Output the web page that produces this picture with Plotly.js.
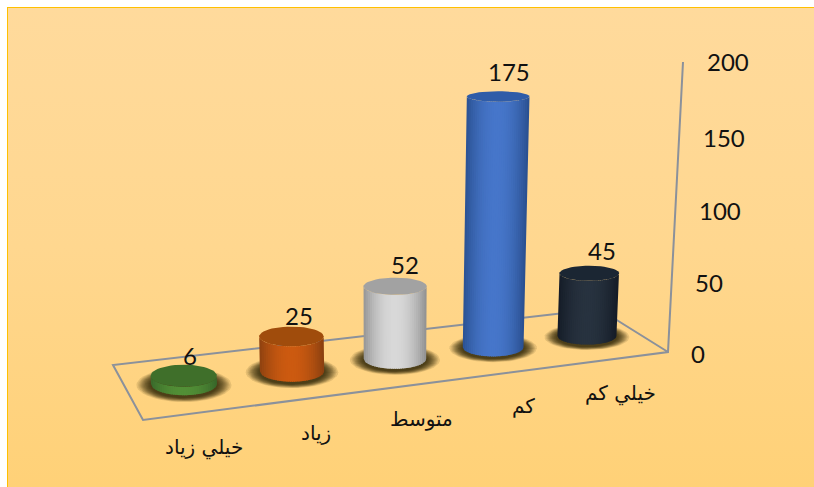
<!DOCTYPE html>
<html><head><meta charset="utf-8">
<script src="https://cdn.plot.ly/plotly-3.0.1.min.js"></script>
<style>
html,body{margin:0;padding:0;background:#fff;width:814px;height:487px;overflow:hidden}
#bg{position:absolute;left:7px;top:7px;width:807px;height:480px;box-sizing:border-box;
border-left:1px solid #FFC000;border-top:1px solid #FFC000;
background:linear-gradient(180deg,#FFDA9C 0%,#FFD78F 50%,#FFD177 100%)}
#chart{position:absolute;left:0;top:0;width:814px;height:487px}
</style></head><body><div id="bg"></div><div id="chart"></div>
<script>
// ---- chart data ----
const categories = ['خيلي زياد','زياد','متوسط','كم','خيلي كم'];
const values = [6,25,52,175,45];
const valueTicks = [0,50,100,150,200];

// ---- styles ----
const edgeColors = ['#38672A','#8A4010','#929292','#2A5090','#141B26'];
const midColors  = ['#528F36','#CC5A10','#D8D8D8','#4676CA','#27323F'];
const topColors  = ['#3F6F2A','#A04C0C','#A2A2A2','#2F5CA8','#1B2633'];
const lineColor = '#8B919B';
const numFont = {family:'Lato, "Open Sans", sans-serif',size:24,color:'#111'};
const catFont = {family:'"DejaVu Sans", sans-serif',size:20,color:'#111'};

// ---- oblique perspective projection of (category, value) to the plot's axes ----
function baseOf(i){
  const t = 110.7*i/(1+0.02474*i);
  return {x:184+t, y:384-0.1191*t, rx:33-0.875*i, ry:11.2-0.65*i};
}
function topOf(i,v){
  const b = baseOf(i), h = v*1.38+v*v*0.0003;
  return {x:b.x+0.000183*(b.x-384)*h, y:b.y-h, rx:b.rx*(1+v*0.00018), ry:b.ry*(1-v*0.0025)};
}
const hex = c=>[1,3,5].map(k=>parseInt(c.substr(k,2),16));
function mix(a,b,t){const A=hex(a),B=hex(b);return 'rgb('+A.map((x,k)=>Math.round(x+(B[k]-x)*t)).join(',')+')';}
const poly = (xs,ys,color)=>({type:'scatter',mode:'lines',x:xs,y:ys,fill:'toself',fillcolor:color,
  line:{width:0},hoverinfo:'skip',showlegend:false});
function ellipse(e,kx,ky,dy,color){
  const xs=[],ys=[];
  for(let a=0;a<=48;a++){const th=a/48*2*Math.PI;xs.push(e.x+e.rx*kx*Math.cos(th));ys.push(e.y+(dy||0)+e.ry*ky*Math.sin(th));}
  return poly(xs,ys,color);
}

const traces=[];
// floor and value axis frame
const frame=(xs,ys,w)=>traces.push({type:'scatter',mode:'lines',x:xs,y:ys,line:{color:lineColor,width:w},hoverinfo:'skip',showlegend:false});
frame([683,668,143,113,599,668],[62,352,420,365,309,352],2);

// shadows
values.forEach((v,i)=>{
  const b=baseOf(i), L=14;
  for(let k=0;k<L;k++){
    const f=Math.pow(k/(L-1),0.8);
    traces.push(ellipse(b,1.44-0.42*f,1.52-0.38*f,1,'rgba(50,36,6,0.125)'));
  }
});
// cylinders: shaded side strips then the cap
values.forEach((v,i)=>{
  const b=baseOf(i), T=topOf(i,v), N=30;
  for(let k=0;k<N;k++){
    const u0=-1+2*k/N, u1=Math.min(1,-1+2*(k+1)/N+0.03), uc=-1+2*(k+0.5)/N;
    const xs=[],ys=[];
    const steps=4;
    for(let s=0;s<=steps;s++){const u=u0+(u1-u0)*s/steps;
      xs.push(b.x+b.rx*u);ys.push(b.y+b.ry*Math.sqrt(Math.max(0,1-u*u)));}
    for(let s=steps;s>=0;s--){const u=u0+(u1-u0)*s/steps;
      xs.push(T.x+T.rx*u);ys.push(T.y+T.ry*Math.sqrt(Math.max(0,1-u*u)));}
    const d=Math.abs(uc+0.02);
    traces.push(poly(xs,ys,mix(edgeColors[i],midColors[i],1-Math.pow(d,2))));
  }
  traces.push(ellipse(T,1,1,0,topColors[i]));
});

// text
const annotations=[];
const note=(x,y,text,font,anchor)=>annotations.push({x,y,text,font,xref:'x',yref:'y',showarrow:false,xanchor:anchor||'center',yanchor:'middle',borderpad:0});
values.forEach((v,i)=>{const T=topOf(i,v);note(T.x+6+1.7*i,T.y-20-0.5*i-v*0.02,String(v),numFont);});
categories.forEach((c,i)=>{const b=baseOf(i);note(b.x+20+3.5*i,b.y+63-1.5*i,c,catFont);});
valueTicks.forEach(v=>note(690+0.08*v,353-1.39*v-0.00033*v*v,String(v),numFont,'left'));

Plotly.newPlot('chart',traces,{
  width:814,height:487,margin:{l:0,r:0,t:0,b:0},
  paper_bgcolor:'rgba(0,0,0,0)',plot_bgcolor:'rgba(0,0,0,0)',
  xaxis:{range:[0,814],visible:false,fixedrange:true},
  yaxis:{range:[487,0],visible:false,fixedrange:true},
  showlegend:false,hovermode:false,annotations
},{staticPlot:true,displayModeBar:false});
</script></body></html>
